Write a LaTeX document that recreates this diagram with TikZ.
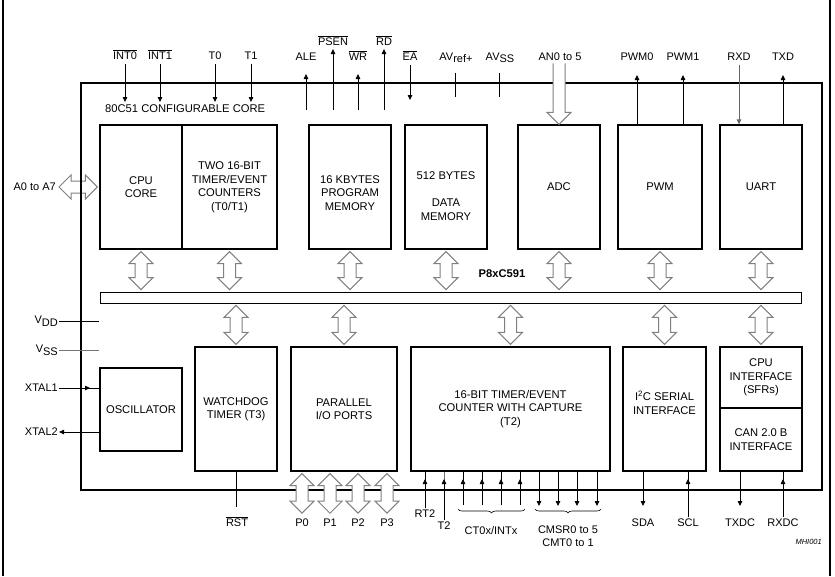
\documentclass[tikz,border=0pt]{standalone}
\usepackage{fontspec}
\setmainfont{Liberation Sans}
\usetikzlibrary{arrows.meta,calc,decorations.pathreplacing}
\newcommand{\ovl}[1]{$\overline{\mbox{#1}}$}
\newcommand{\lowr}[1]{\raisebox{-0.5ex}{#1}}
\newcommand{\blkfont}{\fontsize{11.2}{13.5}\selectfont}
\newcommand{\pinfont}{\fontsize{11}{13}\selectfont}
\tikzset{
 blk/.style={draw, line width=1.3pt, inner sep=0pt, align=center, font=\blkfont},
 txt/.style={inner sep=0pt, align=center, font=\blkfont},
 pin/.style={inner sep=1pt, font=\pinfont, align=center},
 hollow/.style={draw=black!50, line width=1pt, fill=white, line join=miter},
 wire/.style={line width=0.8pt},
 tipend/.style={wire, -{Triangle[length=5pt,width=4.5pt]}},
 greywire/.style={line width=0.8pt, draw=black!55},
}
\newcommand{\vda}[2]{\draw[hollow] let \p1=#1, \p2=#2 in
 (\x1,\y1-2pt) -- (\x1+12pt,\y1-14pt) -- (\x1+6pt,\y1-14pt) -- (\x1+6pt,\y2+14pt) -- (\x1+12pt,\y2+14pt) -- (\x1,\y2+2pt) -- (\x1-12pt,\y2+14pt) -- (\x1-6pt,\y2+14pt) -- (\x1-6pt,\y1-14pt) -- (\x1-12pt,\y1-14pt) -- cycle;}
\newcommand{\hda}[2]{\draw[hollow] let \p1=#1, \p2=#2 in
 (\x1+2pt,\y1) -- (\x1+14pt,\y1+12pt) -- (\x1+14pt,\y1+6pt) -- (\x2-14pt,\y1+6pt) -- (\x2-14pt,\y1+12pt) -- (\x2-2pt,\y1) -- (\x2-14pt,\y1-12pt) -- (\x2-14pt,\y1-6pt) -- (\x1+14pt,\y1-6pt) -- (\x1+14pt,\y1-12pt) -- cycle;}
\begin{document}
\begin{tikzpicture}[x=1pt,y=-1pt]
\useasboundingbox (0,0) rectangle (835,576);
\draw[line width=1.2pt] (3,0) -- (3,576);
\draw[line width=1.2pt] (830,0) -- (830,576);

% level coordinates
\coordinate (yin) at (0,102);
\coordinate (yea) at (0,100);
\coordinate (yup) at (0,110);
\coordinate (ylt) at (0,74);
\coordinate (yht) at (0,49);
\coordinate (ytt) at (0,73);
\coordinate (ytb) at (0,97);
\coordinate (ytip) at (0,75);
\coordinate (ymid) at (0,479);
\coordinate (ydn) at (0,506);
\coordinate (yrst) at (0,507);

% top blocks
\node[blk, minimum width=82pt, minimum height=124pt] (cpu) at (141,187) {CPU\\CORE};
\node[blk, minimum width=95pt, minimum height=124pt] (tmr) at (229.5,187) {TWO 16-BIT\\TIMER/EVENT\\COUNTERS\\(T0/T1)};
\node[blk, minimum width=82pt, minimum height=124pt] (prog) at (350,187) {};
\node[txt] (progt) at (350,193) {16 KBYTES\\PROGRAM\\MEMORY};
\node[blk, minimum width=82pt, minimum height=124pt] (data) at (446,187) {};
\node[txt] (datat) at (446,196) {512 BYTES\\[14pt]DATA\\MEMORY};
\node[blk, minimum width=82pt, minimum height=124pt] (adc) at (559,187) {ADC};
\node[blk, minimum width=84pt, minimum height=124pt] (pwm) at (660,187) {PWM};
\node[blk, minimum width=82pt, minimum height=124pt] (uart) at (761,187) {UART};

% bus
\node[draw, line width=0.8pt, minimum width=701pt, minimum height=11pt, inner sep=0pt] (bus) at (450.5,297.5) {};
\node[font=\blkfont\bfseries, inner sep=0pt] (chipname) at (502,274) {P8xC591};

% bottom blocks
\node[blk, minimum width=82pt, minimum height=83pt] (osc) at (141,409.5) {OSCILLATOR};
\node[blk, minimum width=82pt, minimum height=124pt] (wdt) at (236,409) {WATCHDOG\\TIMER (T3)};
\node[blk, minimum width=106pt, minimum height=124pt] (pio) at (344,409) {PARALLEL\\I/O PORTS};
\node[blk, minimum width=199pt, minimum height=124pt] (t2b) at (510.5,409) {16-BIT TIMER/EVENT\\COUNTER WITH CAPTURE\\(T2)};
\node[blk, minimum width=83pt, minimum height=124pt] (i2c) at (664.5,409) {};
\node[txt] (i2ct) at (664.5,403) {I\textsuperscript{2}C SERIAL\\INTERFACE};
\node[blk, minimum width=82pt, minimum height=61pt] (cpui) at (761,377.5) {CPU\\INTERFACE\\(SFRs)};
\node[blk, minimum width=82pt, minimum height=63pt] (can) at (761,439.5) {CAN 2.0 B\\INTERFACE};

% A0 to A7 (drawn before chip border)
\node[pin, anchor=east] (a0) at (57,187) {A0 to A7};
\hda{(a0.east)}{(cpu.west)}

% chip border
\node[draw, line width=1.6pt, minimum width=741pt, minimum height=407pt, inner sep=0pt] (chip) at (451.5,286.5) {};
\node[font=\blkfont, inner sep=0pt, anchor=west] (core) at (105,109) {80C51 CONFIGURABLE CORE};

% bus arrows
\foreach \b in {cpu,tmr,prog,data,adc,pwm,uart} {\vda{(\b.south)}{(\b.south |- bus.north)}}
\foreach \b in {wdt,pio,t2b,i2c,cpui} {\vda{(\b.north |- bus.south)}{(\b.north)}}

% top pins
\node[pin, anchor=base] (int0) at (125,59) {\ovl{INT0}};
\node[pin, anchor=base] (int1) at (160,59) {\ovl{INT1}};
\node[pin, anchor=base] (t0) at (215,59) {T0};
\node[pin, anchor=base] (t1) at (251,59) {T1};
\foreach \b in {int0,int1,t0,t1} {\draw[tipend, shorten <=4pt] (\b.south) -- (\b.south |- yin);}
\node[pin, anchor=base] (ale) at (306,60) {ALE};
\node[pin, anchor=base] (psen) at (333,45) {\ovl{PSEN}};
\node[pin, anchor=base] (wr) at (358,60) {\ovl{WR}};
\node[pin, anchor=base] (rd) at (384,45) {\ovl{RD}};
\node[pin, anchor=base] (ea) at (410,60) {\ovl{EA}};
\draw[tipend] (ale.south |- yup) -- (ale.south |- ylt);
\draw[tipend] (wr.south |- yup) -- (wr.south |- ylt);
\draw[tipend] (psen.south |- yup) -- (psen.south |- yht);
\draw[tipend] (rd.south |- yup) -- (rd.south |- yht);
\draw[tipend, shorten <=4pt] (ea.south) -- (ea.south |- yea);
\node[pin, anchor=base] (avr) at (456,60) {AV\lowr{ref+}};
\node[pin, anchor=base] (avs) at (500,60) {AV\lowr{SS}};
\draw[wire] ([xshift=-1pt]avr.south |- ytt) -- ([xshift=-1pt]avr.south |- ytb);
\draw[wire] ([xshift=-1pt]avs.south |- ytt) -- ([xshift=-1pt]avs.south |- ytb);
\node[pin, anchor=base] (an) at (560,60) {AN0 to 5};
\path[fill=white] let \p1=(an.south), \p2=(adc.north) in
 (\x2-6pt,\y1-2pt) -- (\x2+6pt,\y1-2pt) -- (\x2+6pt,\y2+12pt) -- (\x2+12pt,\y2+12pt) -- (\x2,\y2) -- (\x2-12pt,\y2+12pt) -- (\x2-6pt,\y2+12pt) -- cycle;
\draw[draw=black!50, line width=1pt, line join=miter] let \p1=(an.south), \p2=(adc.north) in
 (\x2-6pt,\y1-2pt) -- (\x2-6pt,\y2+12pt) -- (\x2-12pt,\y2+12pt) -- (\x2,\y2) -- (\x2+12pt,\y2+12pt) -- (\x2+6pt,\y2+12pt) -- (\x2+6pt,\y1-2pt);
\node[pin, anchor=base] (pwm0l) at (637,60) {PWM0};
\node[pin, anchor=base] (pwm1l) at (683,60) {PWM1};
\node[pin, anchor=base] (rxdl) at (739,60) {RXD};
\node[pin, anchor=base] (txdl) at (783,60) {TXD};
\draw[tipend] (pwm0l.south |- pwm.north) -- (pwm0l.south |- ytip);
\draw[tipend] (pwm1l.south |- pwm.north) -- (pwm1l.south |- ytip);
\draw[tipend] (txdl.south |- uart.north) -- (txdl.south |- ytip);
\draw[tipend, draw=black!60, fill=black, shorten <=4pt] (rxdl.south) -- (rxdl.south |- uart.north);

% left pins
\node[pin, anchor=east] (vdd) at (59,321) {V\lowr{DD}};
\node[pin, anchor=east] (vss) at (59,350) {V\lowr{SS}};
\node[pin, anchor=east] (xt1) at (59,388) {XTAL1};
\node[pin, anchor=east] (xt2) at (59,432) {XTAL2};
\draw[wire] (vdd.east) -- (vdd.east -| osc.west);
\draw[greywire] (vss.east) -- (vss.east -| osc.west);
\draw[wire] (xt1.east) -- (xt1.east -| osc.west);
\draw[tipend] (xt1.east) -- ++(31,0);
\draw[tipend] (xt2.east -| osc.west) -- (xt2.east);

% bottom pins
\node[pin, anchor=base] (rst) at (237,526) {\ovl{RST}};
\draw[wire] (wdt.south) -- (wdt.south |- yrst);
\node[pin, anchor=base] (p0l) at (302,526) {P0};
\node[pin, anchor=base] (p1l) at (330,526) {P1};
\node[pin, anchor=base] (p2l) at (358,526) {P2};
\node[pin, anchor=base] (p3l) at (387,526) {P3};
\foreach \q in {p0l,p1l,p2l,p3l} {\vda{(\q.north |- pio.south)}{([yshift=2pt]\q.north)}}

\node[pin, anchor=base] (rt2l) at (425,517) {RT2};
\node[pin, anchor=base] (t2l) at (444,529) {T2};
\draw[wire] (rt2l.north) -- (rt2l.north |- t2b.south);
\draw[tipend] (rt2l.north) -- (rt2l.north |- ymid);
\draw[greywire] (t2l.north) -- (t2l.north |- t2b.south);
\draw[tipend] (t2l.north) -- (t2l.north |- ymid);

\foreach \i/\xx in {1/463,2/482,3/501,4/520} {
  \coordinate (c\i) at (\xx,505);
  \draw[wire] (c\i) -- (c\i |- t2b.south);
  \draw[tipend] (c\i) -- (c\i |- ymid);
}
\foreach \i/\xx in {1/539,2/558,3/577,4/597} {
  \coordinate (m\i) at (\xx,506);
  \draw[tipend] (m\i |- t2b.south) -- (m\i);
}
\coordinate (cb1) at (458,509); \coordinate (cb2) at (525,509);
\coordinate (mb1) at (535,509); \coordinate (mb2) at (601,509);
\draw[wire, line width=0.6pt, decorate, decoration={brace, mirror, amplitude=4pt}] (cb1) -- (cb2);
\draw[wire, line width=0.6pt, decorate, decoration={brace, mirror, amplitude=4pt}] (mb1) -- (mb2);
\node[pin, anchor=base] (ctl) at (491,534) {CT0x/INTx};
\node[pin] (cmsl) at (568,536.5) {CMSR0 to 5\\CMT0 to 1};

\node[pin, anchor=base] (sdal) at (643,526) {SDA};
\node[pin, anchor=base] (scll) at (688,526) {SCL};
\node[pin, anchor=base] (txdcl) at (740,526) {TXDC};
\node[pin, anchor=base] (rxdcl) at (783,526) {RXDC};
\draw[tipend] (sdal.north |- i2c.south) -- (sdal.north |- ydn);
\draw[tipend] (txdcl.north |- can.south) -- (txdcl.north |- ydn);
\draw[wire] (scll.north) -- (scll.north |- i2c.south);
\draw[tipend] (scll.north) -- (scll.north |- ymid);
\draw[wire] (rxdcl.north) -- (rxdcl.north |- can.south);
\draw[tipend] (rxdcl.north) -- (rxdcl.north |- ymid);

\node[font=\fontsize{7.5}{9}\selectfont\itshape, anchor=east, inner sep=0pt] (mhi) at (822,542) {MHI001};
\end{tikzpicture}
\end{document}
